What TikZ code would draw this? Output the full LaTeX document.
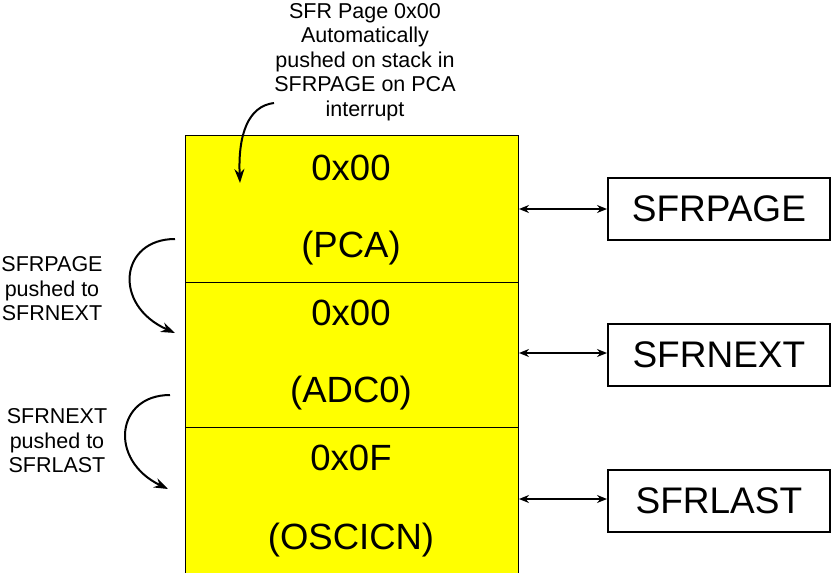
\documentclass[tikz,border=0pt]{standalone}
\usepackage{fontspec}
\setmainfont{Liberation Sans}
\usetikzlibrary{arrows.meta}
\definecolor{pureyellow}{RGB}{255,255,0}
\begin{document}
\begin{tikzpicture}[x=1pt,y=-1pt,
  stackcell/.style={draw=black, fill=pureyellow, line width=0.8pt, minimum width=333pt, inner sep=0pt, anchor=north west},
  regbox/.style={draw=black, line width=1.8pt, minimum width=222pt, minimum height=62pt, inner sep=0pt, font=\fontsize{37}{40}\selectfont, anchor=north west},
  big/.style={font=\fontsize{36.5}{40}\selectfont, inner sep=0pt},
  note/.style={font=\fontsize{21.5}{24.5}\selectfont, align=center, inner sep=0pt},
  dbl/.style={{Stealth[length=10pt,width=8pt]}-{Stealth[length=10pt,width=8pt]}, line width=1.6pt},
  curv/.style={-{Stealth[length=14pt,width=10pt]}, line width=2pt}]
\useasboundingbox (0,0) rectangle (833,573);
% stack cells
\node[stackcell, minimum height=147pt] (c1) at (185,135) {};
\node[stackcell, minimum height=145pt] (c2) at (185,282) {};
\node[stackcell, minimum height=150pt] (c3) at (185,427) {};
\node[big] (v1) at (351,168) {0x00};
\node[big] (r1) at (351,248) {(PCA)};
\node[big] (v2) at (351,313) {0x00};
\node[big] (r2) at (351,393) {(ADC0)};
\node[big] (v3) at (351,458) {0x0F};
\node[big] (r3) at (351,540) {(OSCICN)};
% register boxes
\node[regbox] (p) at (607,177) {SFRPAGE};
\node[regbox] (n) at (607,323) {SFRNEXT};
\node[regbox] (l) at (607,469) {SFRLAST};
\coordinate (a1) at (519,209);
\coordinate (a2) at (519,353);
\coordinate (a3) at (519,499);
\draw[dbl] (a1) -- (a1 -| p.west);
\draw[dbl] (a2) -- (a2 -| n.west);
\draw[dbl] (a3) -- (a3 -| l.west);
% notes
\node[note] (t) at (365,62) {SFR Page 0x00\\Automatically\\pushed on stack in\\SFRPAGE on PCA\\interrupt};
\node[note] (s1) at (52,289) {SFRPAGE\\pushed to\\SFRNEXT};
\node[note] (s2) at (57,441) {SFRNEXT\\pushed to\\SFRLAST};
% curved arrows
\coordinate (t0) at (274,103);
\coordinate (t1) at (240,183);
\draw[curv] (t0) .. controls (248,106) and (238,135) .. (t1);
\coordinate (b0) at (175,239);
\coordinate (b1) at (175,333);
\draw[curv] (b0) .. controls (120,239) and (112,305) .. (b1);
\coordinate (d0) at (170,395);
\coordinate (d1) at (168,489);
\draw[curv] (d0) .. controls (116,395) and (108,460) .. (d1);
\end{tikzpicture}
\end{document}
